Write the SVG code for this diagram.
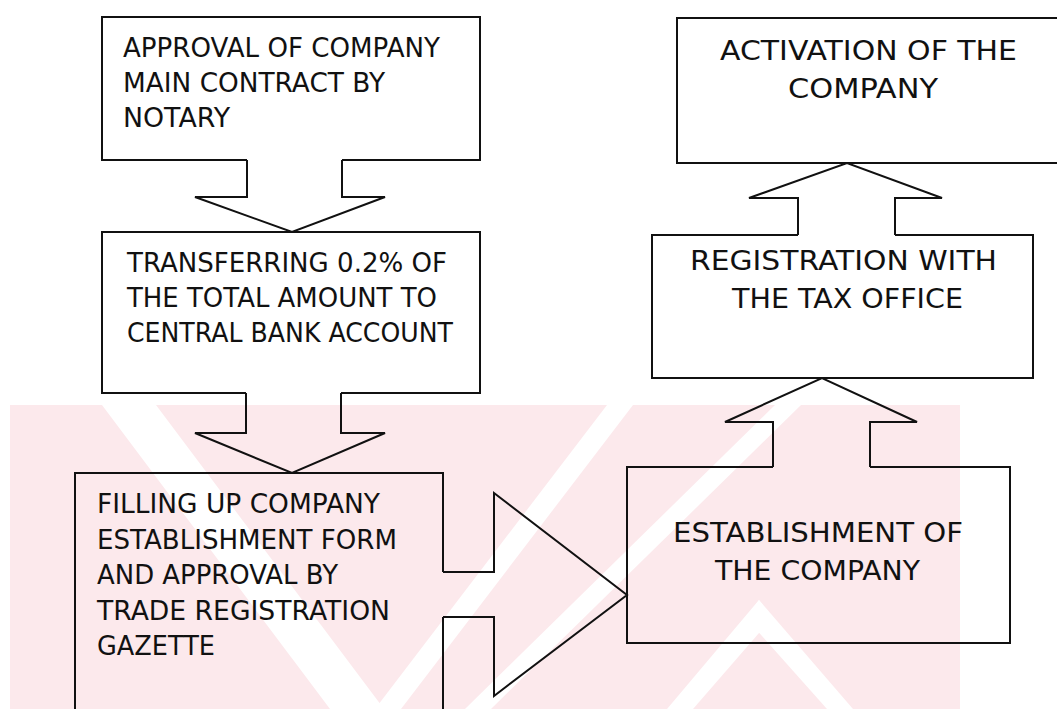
<svg xmlns="http://www.w3.org/2000/svg" width="1057" height="709" viewBox="0 0 1057 709">
  <style>
    .box { fill: none; stroke: #111; stroke-width: 2; stroke-linejoin: miter; }
    .arrow { fill: none; stroke: #111; stroke-width: 2; stroke-linejoin: miter; }
    .lbl { font-family: "DejaVu Sans", Verdana, sans-serif; font-size: 27px; fill: #111; }
    .wm { fill: #fce9ec; }
    .wm-gap { fill: #ffffff; }
  </style>
  <rect width="1057" height="709" fill="#ffffff"/>

  <!-- faint background emblem in the lower band -->
  <g id="background-emblem">
    <rect class="wm" x="10" y="405" width="950" height="304"/>
    <polygon class="wm-gap" points="102,405 156,405 384,709 330,709"/>
    <polygon class="wm-gap" points="607,405 633,405 401,709 375,709"/>
    <polygon class="wm-gap" points="775,405 801,405 491,709 465,709"/>
    <polygon class="wm-gap" points="759,600 772,618 693,709 667,709"/>
    <polygon class="wm-gap" points="759,600 746,618 827,709 853,709"/>
  </g>

  <g id="step-notary">
    <polyline class="box" points="247,160 102,160 102,17 480,17 480,160 342,160"/>
    <text class="lbl" x="123" y="57" textLength="317" lengthAdjust="spacingAndGlyphs">APPROVAL OF COMPANY</text>
    <text class="lbl" x="123" y="92" textLength="262" lengthAdjust="spacingAndGlyphs">MAIN CONTRACT BY</text>
    <text class="lbl" x="123" y="127" textLength="107" lengthAdjust="spacingAndGlyphs">NOTARY</text>
  </g>

  <g id="step-central-bank">
    <polyline class="box" points="246,393 102,393 102,232 480,232 480,393 341,393"/>
    <text class="lbl" x="127" y="272" textLength="320" lengthAdjust="spacingAndGlyphs">TRANSFERRING 0.2% OF</text>
    <text class="lbl" x="127" y="307" textLength="310" lengthAdjust="spacingAndGlyphs">THE TOTAL AMOUNT TO</text>
    <text class="lbl" x="127" y="342" textLength="326" lengthAdjust="spacingAndGlyphs">CENTRAL BANK ACCOUNT</text>
  </g>

  <g id="step-gazette">
    <polyline class="box" points="443,572 443,473 75,473 75,720"/>
    <line class="box" x1="443" y1="617" x2="443" y2="720"/>
    <text class="lbl" x="97" y="513" textLength="283" lengthAdjust="spacingAndGlyphs">FILLING UP COMPANY</text>
    <text class="lbl" x="97" y="549" textLength="300" lengthAdjust="spacingAndGlyphs">ESTABLISHMENT FORM</text>
    <text class="lbl" x="97" y="584" textLength="241" lengthAdjust="spacingAndGlyphs">AND APPROVAL BY</text>
    <text class="lbl" x="97" y="620" textLength="293" lengthAdjust="spacingAndGlyphs">TRADE REGISTRATION</text>
    <text class="lbl" x="97" y="655" textLength="118" lengthAdjust="spacingAndGlyphs">GAZETTE</text>
  </g>

  <g id="step-establishment">
    <polyline class="box" points="773,467 627,467 627,643 1010,643 1010,467 870,467"/>
    <text class="lbl" x="673" y="542" textLength="290" lengthAdjust="spacingAndGlyphs">ESTABLISHMENT OF</text>
    <text class="lbl" x="715" y="580" textLength="205" lengthAdjust="spacingAndGlyphs">THE COMPANY</text>
  </g>

  <g id="step-tax-office">
    <polyline class="box" points="798,235 652,235 652,378 1033,378 1033,235 895,235"/>
    <text class="lbl" x="690" y="270" textLength="307" lengthAdjust="spacingAndGlyphs">REGISTRATION WITH</text>
    <text class="lbl" x="732" y="308" textLength="231" lengthAdjust="spacingAndGlyphs">THE TAX OFFICE</text>
  </g>

  <g id="step-activation">
    <polyline class="box" points="1060,18 677,18 677,163 1060,163"/>
    <text class="lbl" x="720" y="60" textLength="297" lengthAdjust="spacingAndGlyphs">ACTIVATION OF THE</text>
    <text class="lbl" x="788" y="98" textLength="150" lengthAdjust="spacingAndGlyphs">COMPANY</text>
  </g>

  <g id="connectors">
    <polyline class="arrow" points="247,160 247,197 195,197 292,232 385,197 342,197 342,160"/>
    <polyline class="arrow" points="246,393 246,433 195,433 292,473 385,433 341,433 341,393"/>
    <polyline class="arrow" points="443,572 494,572 494,493 627,595 494,696 494,617 443,617"/>
    <polyline class="arrow" points="773,467 773,422 725,422 822,378 917,422 870,422 870,467"/>
    <polyline class="arrow" points="798,235 798,198 749,198 847,163 942,198 895,198 895,235"/>
  </g>
</svg>
